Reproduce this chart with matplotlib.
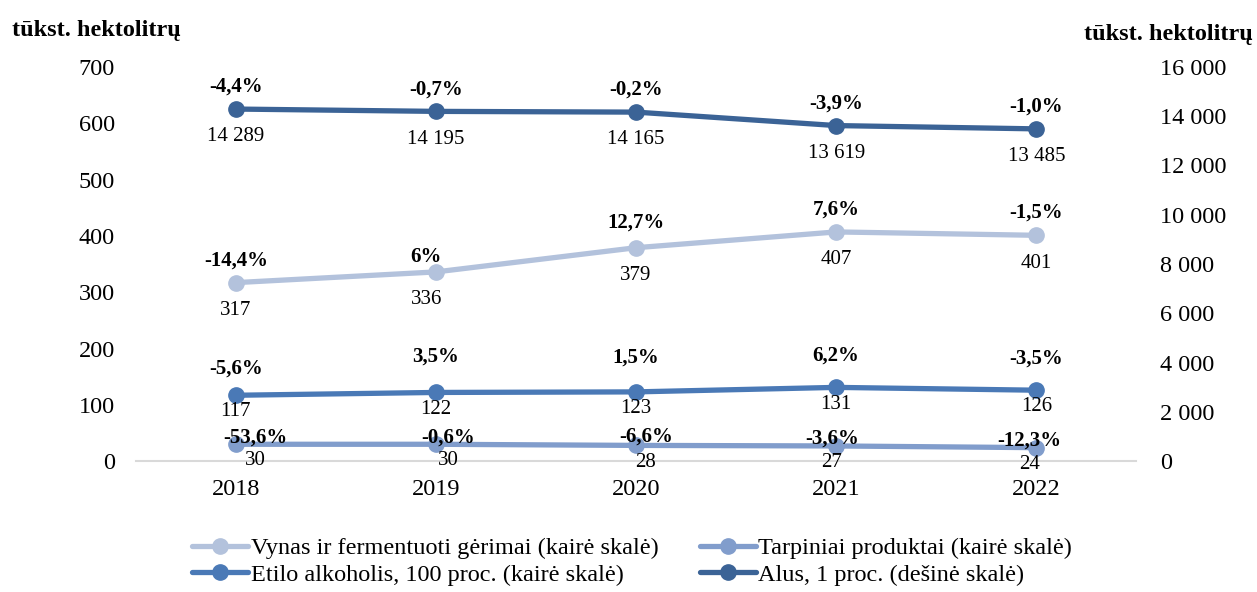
import matplotlib.pyplot as plt
import numpy as np

plt.rcParams['font.family'] = ['Liberation Serif', 'DejaVu Serif']

years = ['2018', '2019', '2020', '2021', '2022']
vynas = [317, 336, 379, 407, 401]
vynas_pct = ['-14,4%', '6%', '12,7%', '7,6%', '-1,5%']
tarpiniai = [30, 30, 28, 27, 24]
tarpiniai_pct = ['-53,6%', '-0,6%', '-6,6%', '-3,6%', '-12,3%']
etilo = [117, 122, 123, 131, 126]
etilo_pct = ['-5,6%', '3,5%', '1,5%', '6,2%', '-3,5%']
alus = [14289, 14195, 14165, 13619, 13485]
alus_pct = ['-4,4%', '-0,7%', '-0,2%', '-3,9%', '-1,0%']

c_vynas = '#b3c2dc'
c_tarp = '#819dcc'
c_etilo = '#4a79b6'
c_alus = '#3b6396'

fig = plt.figure(figsize=(12.57, 5.92), dpi=100)
ax = fig.add_axes([0.108, 0.221, 0.796, 0.666])
ax2 = ax.twinx()

x = np.arange(len(years))
kw = dict(linewidth=3.8, marker='o', markersize=11, solid_capstyle='round')
l1, = ax.plot(x, vynas, color=c_vynas, label='Vynas ir fermentuoti gėrimai (kairė skalė)', **kw)
l2, = ax.plot(x, tarpiniai, color=c_tarp, label='Tarpiniai produktai (kairė skalė)', **kw)
l3, = ax.plot(x, etilo, color=c_etilo, label='Etilo alkoholis, 100 proc. (kairė skalė)', **kw)
l4, = ax2.plot(x, alus, color=c_alus, label='Alus, 1 proc. (dešinė skalė)', **kw)


def fmt(v):
    return f'{v:,}'.replace(',', '\u00a0')


def labels(a, vals, pcts, up, down, dx=(0, 0, 0, 0, 0)):
    for i, (v, p) in enumerate(zip(vals, pcts)):
        a.annotate(p, (x[i], v), xytext=(dx[i], up[i]), textcoords='offset points',
                   ha='center', va='center', fontsize=15, fontweight='bold')
        a.annotate(fmt(v), (x[i], v), xytext=(dx[i], -down), textcoords='offset points',
                   ha='center', va='center', fontsize=15)


labels(ax, vynas, vynas_pct, [16, 11, 18, 16, 16], 20, dx=(0, -7, 0, 0, 0))
labels(ax, etilo, etilo_pct, [19, 26, 25, 23, 23], 12)
labels(ax, tarpiniai, tarpiniai_pct, [5, 5, 6, 5, 5], 12, dx=(14, 9, 7, -3, -5))
labels(ax2, alus, alus_pct, [16] * 5, 20)

ax.set_xlim(-0.5, 4.5)
ax.set_ylim(0, 700)
ax2.set_ylim(0, 16000)
ax.set_yticks(range(0, 701, 100))
ax2.set_yticks(range(0, 16001, 2000))
ax2.set_yticklabels([fmt(v) for v in range(0, 16001, 2000)])
ax.set_xticks(x)
ax.set_xticklabels(years)

for a in (ax, ax2):
    for s in a.spines.values():
        s.set_visible(False)
    a.tick_params(length=0, labelsize=17.5)
ax.spines['bottom'].set_visible(True)
ax.spines['bottom'].set_color('#d9d9d9')
ax.spines['bottom'].set_linewidth(1.5)
ax.tick_params(axis='y', pad=15)
ax.tick_params(axis='x', pad=13)
ax2.tick_params(axis='y', pad=17)

fig.text(0.0095, 0.94, 'tūkst. hektolitrų', fontsize=17.5, fontweight='bold', ha='left', va='baseline')
fig.text(0.997, 0.932, 'tūkst. hektolitrų', fontsize=17.5, fontweight='bold', ha='right', va='baseline')

fig.legend(handles=[l1, l3, l2, l4], ncol=2, loc='center', bbox_to_anchor=(0.503, 0.0515),
           frameon=False, fontsize=17.5, handlelength=2.3, columnspacing=1.7, labelspacing=0.2,
           handletextpad=0.1, borderpad=0)

fig.savefig('out.png', dpi=100)
